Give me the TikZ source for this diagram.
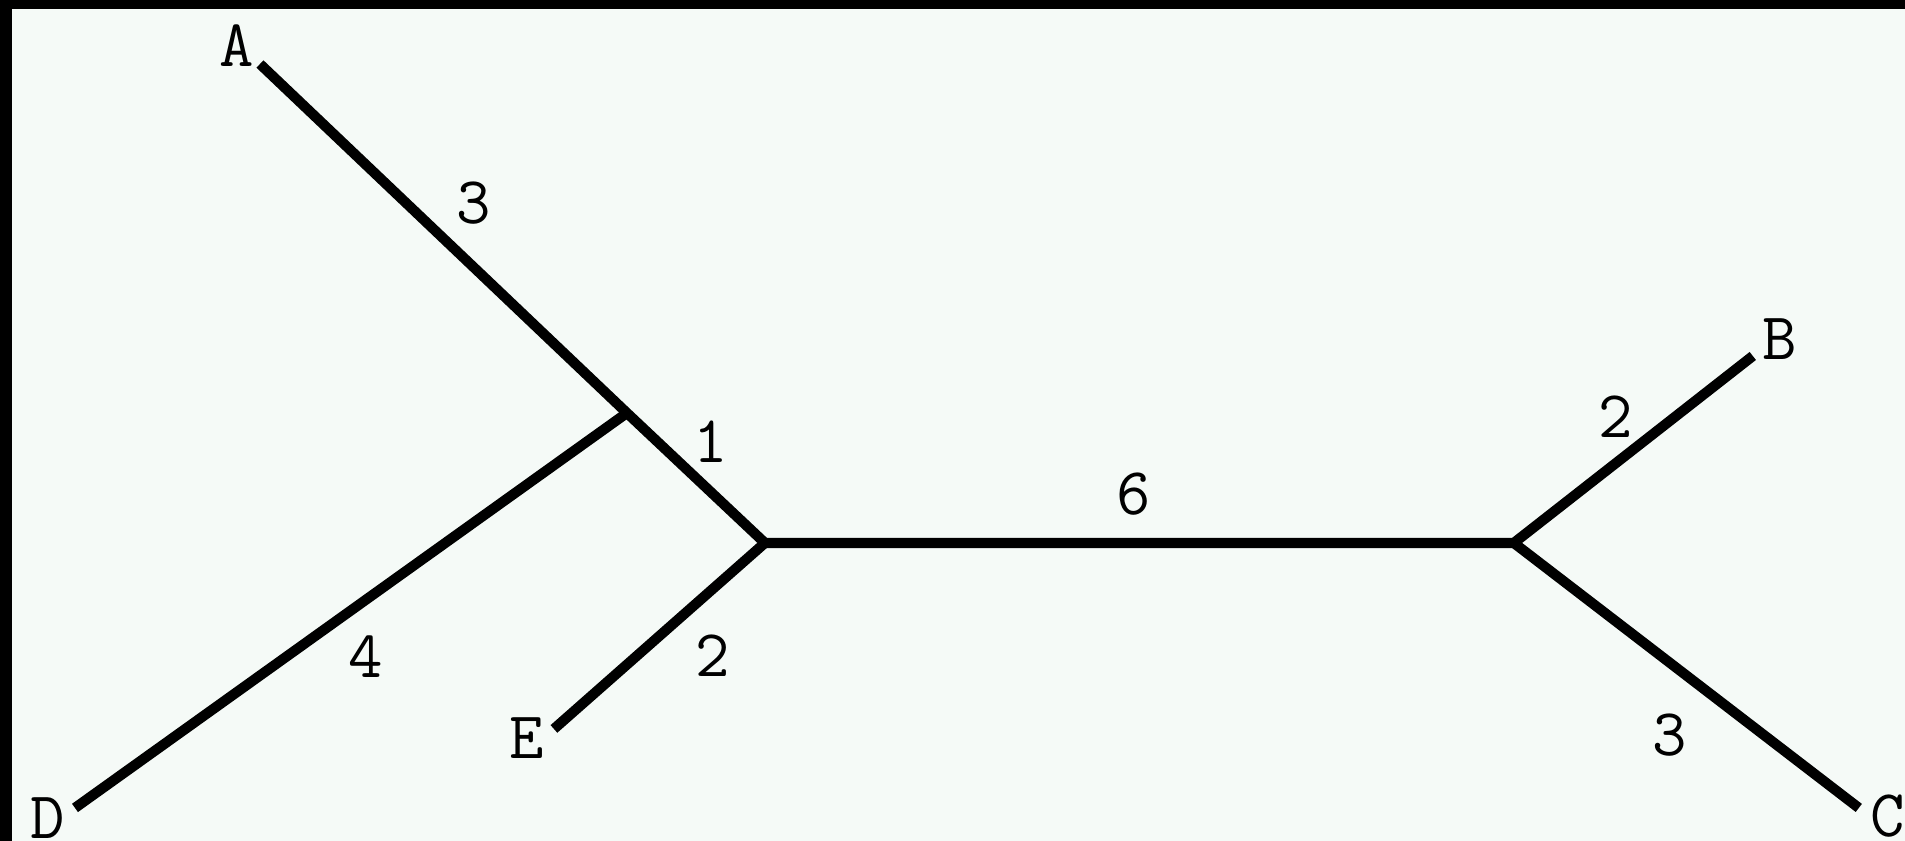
\documentclass[tikz,border=0pt]{standalone}
\usetikzlibrary{positioning}
\definecolor{paper}{HTML}{F5FAF7}
\begin{document}
\begin{tikzpicture}[x=0.01cm,y=-0.01cm,
    branch/.style={line width=2.9pt, line cap=butt, line join=miter},
    leaf/.style={font=\ttfamily\fontsize{19}{20}\selectfont, inner sep=0pt},
    len/.style={font=\ttfamily\fontsize{19}{20}\selectfont, inner sep=0pt}]
        % frame and background
        \fill[black] (0,0) rectangle (1905,841);
        \fill[paper] (12,9) rectangle (1905,841);
        % inner points of the tree
        \coordinate (ad) at (627,413);
        \coordinate (ae) at (765,543);
        \coordinate (bc) at (1514,543);
        % tips
        \coordinate (tA) at (260,64);
        \coordinate (tB) at (1753,356);
        \coordinate (tC) at (1859,808);
        \coordinate (tD) at (75,808);
        \coordinate (tE) at (554,729);
        \node[leaf] (A) at (237,46) {A};
        \node[leaf] (B) at (1780,339) {B};
        \node[leaf] (C) at (1888,816) {C};
        \node[leaf] (D) at (48,818) {D};
        \node[leaf] (E) at (527,738) {E};
        % branches
        \draw[branch] (tA) -- (ad) -- (ae) -- (bc) -- (tB);
        \draw[branch] (tD) -- (ad);
        \draw[branch] (tE) -- (ae);
        \draw[branch] (bc) -- (tC);
        % branch lengths
        \node[len] (lA) at (474,203) {3};
        \node[len] (lX) at (711,442) {1};
        \node[len] (lM) at (1134,494) {6};
        \node[len] (lB) at (1616,417) {2};
        \node[len] (lC) at (1670,735) {3};
        \node[len] (lD) at (366,657) {4};
        \node[len] (lE) at (713,656) {2};
    \end{tikzpicture}
\end{document}
